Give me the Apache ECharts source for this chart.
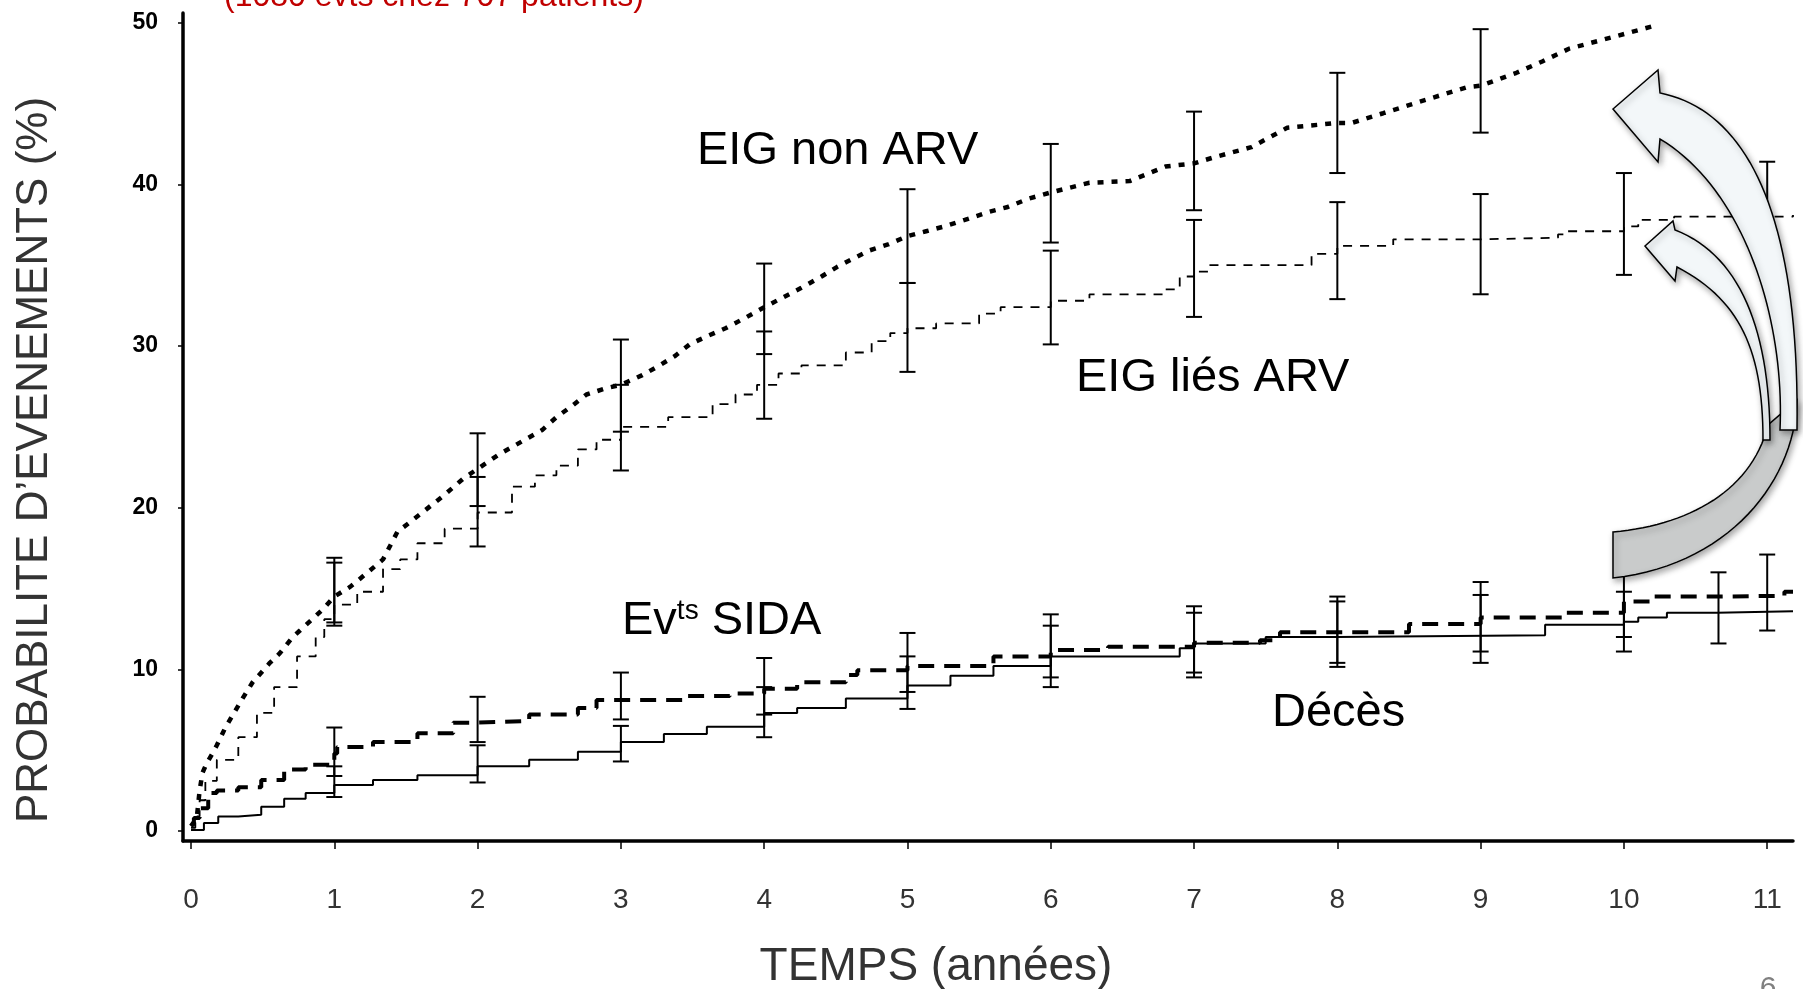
<!DOCTYPE html>
<html>
<head>
<meta charset="utf-8">
<script src="https://cdn.jsdelivr.net/npm/echarts/dist/echarts.min.js"></script>
<style>
  html, body { margin: 0; padding: 0; background: #fff; }
  #chart { width: 1803px; height: 989px; }
</style>
</head>
<body>
<div id="chart"></div>
<script>
// ---------------- data (time in years, probability in %) ----------------
const xTickValues = [0, 1, 2, 3, 4, 5, 6, 7, 8, 9, 10, 11];
const yTickValues = [0, 10, 20, 30, 40, 50];

const eigNonArv = [
  [0, 0.3], [0.04, 0.8], [0.06, 2.5], [0.08, 3.6], [0.11, 4.2], [0.15, 4.8], [0.18, 5.3],
  [0.24, 6.4], [0.30, 7.3], [0.36, 8.2], [0.43, 9.2], [0.5, 9.9], [0.55, 10.4], [0.62, 11.0],
  [0.71, 12.0], [0.76, 12.4], [0.87, 13.3], [0.93, 13.8], [1.0, 14.5], [1.11, 15.1], [1.22, 15.9],
  [1.34, 16.8], [1.44, 18.5], [1.6, 19.6], [1.77, 20.8], [1.9, 21.8], [2.0, 22.4], [2.15, 23.3],
  [2.33, 24.2], [2.45, 24.8], [2.55, 25.6], [2.66, 26.3], [2.76, 27.0], [2.9, 27.4], [3.0, 27.6],
  [3.15, 28.2], [3.27, 28.8], [3.38, 29.4], [3.48, 30.1], [3.6, 30.6], [3.73, 31.1], [3.88, 31.8],
  [4.0, 32.4], [4.13, 33.0], [4.26, 33.6], [4.4, 34.3], [4.51, 34.9], [4.62, 35.4], [4.73, 35.9],
  [4.87, 36.3], [5.0, 36.8], [5.13, 37.1], [5.26, 37.4], [5.4, 37.8], [5.57, 38.3], [5.7, 38.6],
  [5.84, 39.1], [6.0, 39.5], [6.27, 40.1], [6.55, 40.2], [6.8, 41.1], [7.0, 41.3], [7.15, 41.7],
  [7.4, 42.3], [7.65, 43.5], [8.0, 43.8], [8.1, 43.8], [8.32, 44.4], [8.57, 45.1], [8.9, 46.0],
  [9.0, 46.1], [9.25, 46.9], [9.43, 47.6], [9.62, 48.4], [9.96, 49.2], [10.21, 49.8], [10.23, 49.8]
];

const eigLiesArv = [
  [0, 0.2], [0.03, 0.9], [0.06, 1.9], [0.1, 3.1], [0.18, 4.4], [0.33, 5.8], [0.46, 7.3],
  [0.58, 8.9], [0.74, 10.8], [0.87, 12.0], [0.93, 13.1], [1.0, 14.0], [1.16, 14.8], [1.34, 16.2],
  [1.46, 16.8], [1.58, 17.8], [1.77, 18.7], [2.0, 19.7], [2.24, 21.3], [2.4, 22.0], [2.55, 22.6],
  [2.7, 23.6], [2.83, 24.2], [3.0, 25.0], [3.33, 25.6], [3.64, 26.4], [3.8, 27.0], [3.95, 27.6],
  [4.1, 28.3], [4.26, 28.8], [4.57, 29.6], [4.75, 30.3], [4.88, 30.8], [5.0, 31.1], [5.2, 31.4],
  [5.5, 32.0], [5.65, 32.4], [6.0, 32.8], [6.27, 33.2], [6.8, 33.5], [6.9, 34.3], [7.0, 34.6],
  [7.1, 35.0], [7.82, 35.7], [8.0, 36.2], [8.39, 36.6], [9.0, 36.7], [9.54, 36.9], [9.6, 37.1],
  [10.0, 37.4], [10.1, 37.8], [10.35, 38.0], [11.18, 38.1]
];

const evtsSida = [
  [0, 0.4], [0.02, 0.8], [0.06, 1.4], [0.12, 2.35], [0.18, 2.5], [0.33, 2.7], [0.49, 3.15],
  [0.65, 3.8], [0.8, 4.1], [1.0, 4.8], [1.02, 5.2], [1.27, 5.5], [1.58, 6.05], [1.83, 6.7],
  [2.0, 6.8], [2.36, 7.2], [2.7, 7.6], [2.83, 8.1], [3.45, 8.35], [3.76, 8.5], [4.0, 8.8],
  [4.23, 9.2], [4.57, 9.65], [4.65, 9.95], [5.0, 10.2], [5.6, 10.8], [6.0, 11.2], [6.4, 11.4],
  [7.0, 11.65], [7.46, 11.8], [7.6, 12.3], [8.1, 12.3], [8.5, 12.8], [9.0, 13.2], [9.6, 13.5],
  [10.0, 14.2], [10.2, 14.5], [10.65, 14.55], [11.12, 14.8], [11.18, 14.8]
];

const deces = [
  [0, 0.06], [0.09, 0.5], [0.19, 0.9], [0.33, 1.0], [0.49, 1.5], [0.65, 2.0], [0.8, 2.35],
  [1.0, 2.85], [1.27, 3.15], [1.58, 3.45], [2.0, 4.0], [2.36, 4.4], [2.7, 4.9], [3.0, 5.5],
  [3.3, 6.0], [3.6, 6.45], [4.0, 7.3], [4.23, 7.6], [4.57, 8.2], [5.0, 9.0], [5.3, 9.6],
  [5.6, 10.2], [6.0, 10.8], [6.9, 11.3], [7.0, 11.6], [7.5, 12.0], [8.0, 12.1], [9.45, 12.75],
  [10.0, 12.95], [10.1, 13.2], [10.3, 13.5], [10.65, 13.6], [11.18, 13.6]
];

// confidence intervals: [time, low, high]
const eigNonArvCI = [
  [1, 12.9, 16.9], [2, 20.1, 24.6], [3, 24.7, 30.4], [4, 29.5, 35.1], [5, 33.9, 39.7],
  [6, 36.4, 42.5], [7, 38.4, 44.5], [8, 40.7, 46.9], [9, 43.2, 49.6]
];
const eigLiesArvCI = [
  [1, 12.7, 16.6], [2, 17.6, 21.9], [3, 22.3, 27.6], [4, 25.5, 30.9], [5, 28.4, 33.9],
  [6, 30.1, 35.9], [7, 31.8, 37.8], [8, 32.9, 38.9], [9, 33.2, 39.4], [10, 34.4, 40.7],
  [11, 35.2, 41.4]
];
const evtsSidaCI = [
  [1, 3.4, 6.4], [2, 5.5, 8.3], [3, 6.9, 9.8], [4, 7.2, 10.7], [5, 8.6, 12.25],
  [6, 9.5, 13.4], [7, 9.8, 13.9], [8, 10.4, 14.5], [9, 11.1, 15.4], [10, 12.0, 16.4],
  [10.66, 11.6, 16.0]
];
const decesCI = [
  [1, 2.1, 4.0], [2, 3.0, 5.3], [3, 4.3, 6.5], [4, 5.8, 8.9], [5, 7.55, 10.8],
  [6, 8.9, 12.7], [7, 9.5, 13.5], [8, 10.15, 14.2], [9, 10.4, 14.6], [10, 11.1, 14.8],
  [11, 12.4, 17.1]
];

// ---------------- decorative arrow outlines (page pixels) ----------------
function bez(p0, c1, c2, p3, n) {
  const pts = [];
  for (let i = 0; i <= n; i++) {
    const t = i / n, u = 1 - t;
    pts.push([
      u * u * u * p0[0] + 3 * u * u * t * c1[0] + 3 * u * t * t * c2[0] + t * t * t * p3[0],
      u * u * u * p0[1] + 3 * u * u * t * c1[1] + 3 * u * t * t * c2[1] + t * t * t * p3[1]
    ]);
  }
  return pts;
}
const grayRibbon = [].concat(
  bez([1613, 532], [1690, 525], [1752, 490], [1768, 425], 30),
  [[1797, 400]],
  bez([1797, 400], [1795, 480], [1730, 565], [1613, 578], 30)
);
const bigArrow = [].concat(
  bez([1780, 430], [1785, 320], [1745, 190], [1660, 139], 40),
  [[1658, 162], [1613, 109], [1658, 70]],
  bez([1660, 93], [1745, 110], [1800, 210], [1797, 430], 40)
);
const smallArrow = [].concat(
  bez([1763, 440], [1763, 350], [1740, 300], [1677, 267], 30),
  [[1675, 281], [1645, 246], [1673, 221]],
  bez([1675, 230], [1740, 255], [1770, 330], [1770, 440], 30)
);

// ---------------- chart ----------------
const chart = echarts.init(document.getElementById('chart'), null, { renderer: 'canvas' });

function ciSeries(name, data) {
  return {
    name: name,
    type: 'custom',
    data: data,
    z: 4,
    silent: true,
    renderItem: function (params, api) {
      const lo = api.coord([api.value(0), api.value(1)]);
      const hi = api.coord([api.value(0), api.value(2)]);
      const w = 8;
      const st = { stroke: '#000', lineWidth: 2 };
      return {
        type: 'group',
        children: [
          { type: 'line', shape: { x1: lo[0], y1: lo[1], x2: hi[0], y2: hi[1] }, style: st },
          { type: 'line', shape: { x1: lo[0] - w, y1: lo[1], x2: lo[0] + w, y2: lo[1] }, style: st },
          { type: 'line', shape: { x1: hi[0] - w, y1: hi[1], x2: hi[0] + w, y2: hi[1] }, style: st }
        ]
      };
    }
  };
}

function kmLine(name, data, lineStyle, step) {
  return {
    name: name,
    type: 'line',
    data: data,
    step: step,
    showSymbol: false,
    symbol: 'none',
    silent: true,
    z: 3,
    lineStyle: lineStyle
  };
}

const FONT = 'Liberation Sans, Arial, sans-serif';
function txt(text, x, y, size, color) {
  return {
    type: 'text', x: x, y: y, z: 50, silent: true,
    style: {
      text: text, fill: color, fontSize: size, fontFamily: FONT,
      align: 'left', verticalAlign: 'middle'
    }
  };
}

const arrowStyleWhite = {
  fill: '#f3f7f9', stroke: '#000', lineWidth: 1.5,
  shadowBlur: 6, shadowColor: 'rgba(0,0,0,0.35)', shadowOffsetX: 2, shadowOffsetY: 3
};
const arrowStyleGray = {
  fill: '#c9cbcb', stroke: '#000', lineWidth: 1.5,
  shadowBlur: 6, shadowColor: 'rgba(0,0,0,0.35)', shadowOffsetX: 2, shadowOffsetY: 3
};

const option = {
  animation: false,
  backgroundColor: '#ffffff',
  grid: { left: 183, right: 10, top: 13, bottom: 148, containLabel: false, outerBoundsMode: 'none' },
  xAxis: {
    type: 'value',
    min: -0.056,
    max: 11.18,
    splitLine: { show: false },
    axisLine: { show: true, onZero: false, lineStyle: { color: '#000', width: 3.5 } },
    axisTick: { show: true, customValues: xTickValues, length: 8, lineStyle: { color: '#000', width: 1.5 } },
    axisLabel: {
      show: true, customValues: xTickValues, margin: 45, fontSize: 28, color: '#333',
      fontFamily: 'Liberation Sans Narrow, Liberation Sans, Arial, sans-serif'
    }
  },
  yAxis: {
    type: 'value',
    min: -0.62,
    max: 50.6,
    splitLine: { show: false },
    axisLine: { show: true, onZero: false, lineStyle: { color: '#000', width: 3.5 } },
    axisTick: { show: true, customValues: yTickValues, length: 5, lineStyle: { color: '#000', width: 1.5 } },
    axisLabel: {
      show: true, customValues: yTickValues, margin: 25, fontSize: 23, fontWeight: 'bold', color: '#000',
      fontFamily: FONT
    }
  },
  series: [
    kmLine('EIG non ARV', eigNonArv, { color: '#000', width: 4.5, type: [6, 8] }, false),
    kmLine('EIG liés ARV', eigLiesArv, { color: '#000', width: 1.8, type: [9, 8] }, 'end'),
    kmLine('Evts SIDA', evtsSida, { color: '#000', width: 4, type: [16, 10] }, 'end'),
    kmLine('Décès', deces, { color: '#000', width: 2, type: 'solid' }, 'end'),
    ciSeries('IC EIG non ARV', eigNonArvCI),
    ciSeries('IC EIG liés ARV', eigLiesArvCI),
    ciSeries('IC Evts SIDA', evtsSidaCI),
    ciSeries('IC Décès', decesCI)
  ],
  graphic: [
    { type: 'polygon', z: 100, silent: true, shape: { points: grayRibbon }, style: arrowStyleGray },
    { type: 'polygon', z: 101, silent: true, shape: { points: bigArrow }, style: arrowStyleWhite },
    { type: 'polygon', z: 102, silent: true, shape: { points: smallArrow }, style: arrowStyleWhite },

    txt('EIG non ARV', 697, 151, 47, '#000'),
    txt('EIG liés ARV', 1076, 378, 47, '#000'),
    txt('Décès', 1272, 713, 47, '#000'),
    { type: 'text', x: 622, y: 621, z: 50, silent: true,
      style: {
        text: '{a|Ev}{b|ts}{a| SIDA}', fill: '#000', fontFamily: FONT,
        fontSize: 47, align: 'left', verticalAlign: 'middle',
        rich: {
          a: { fontSize: 47, fontFamily: FONT, fill: '#000' },
          b: { fontSize: 28, fontFamily: FONT, fill: '#000', verticalAlign: 'top' }
        }
      } },

    { type: 'text', x: 35, y: 460, rotation: Math.PI / 2, z: 50, silent: true,
      style: { text: 'PROBABILITE D’EVENEMENTS (%)', fill: '#333', fontSize: 44,
        fontFamily: FONT, align: 'center', verticalAlign: 'middle' } },
    { type: 'text', x: 936, y: 967, z: 50, silent: true,
      style: { text: 'TEMPS (années)', fill: '#333', fontSize: 46,
        fontFamily: FONT, align: 'center', verticalAlign: 'middle' } },

    txt('(1080 evts chez 707 patients)', 224, -3, 32, '#c00000'),

    { type: 'text', x: 1768, y: 989, z: 50, silent: true,
      style: { text: '6', fill: '#808080', fontSize: 30, fontFamily: FONT,
        align: 'center', verticalAlign: 'middle' } }
  ]
};

chart.setOption(option);
</script>
</body>
</html>
